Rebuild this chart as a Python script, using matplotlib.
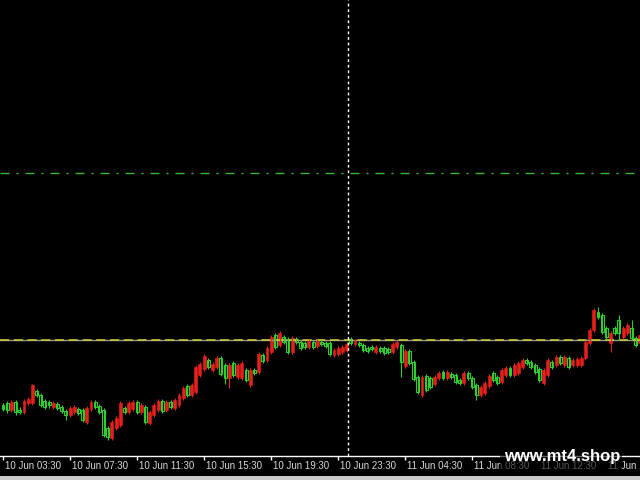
import matplotlib
matplotlib.use("Agg")
import matplotlib.pyplot as plt
from matplotlib.patches import Rectangle
import numpy as np

# M15 candles (price in arbitrary points)
opens = [75, 77, 70, 78, 70, 68, 77, 77, 89, 85, 79, 78, 73, 76, 73, 69, 65, 68, 71, 70, 58, 71, 78, 74,
         70, 52, 42, 52, 55, 72, 68, 71, 78, 68, 73, 57, 65, 70, 79, 70, 78, 72, 75, 82, 94, 85, 88, 105,
         111, 120, 110, 113, 122, 115, 102, 117, 103, 102, 110, 95, 110, 108, 125, 120, 128, 145, 135, 143, 141, 128, 141, 138,
         137, 133, 138, 134, 138, 137, 137, 125, 126, 128, 130, 141, 136, 137, 135, 132, 133, 128, 132, 132, 131, 128, 133,
         135, 114, 129, 118, 103, 85, 104, 102, 96, 102, 108, 102, 106, 105, 100, 97, 107, 102, 95, 85, 87, 94, 107, 103,
         98, 105, 112, 105, 107, 113, 120, 118, 115, 111, 97, 105, 118, 115, 123, 115, 122, 115, 115, 115, 122, 137, 150, 168,
         165, 152, 137, 152, 160, 143, 147, 152, 142, 137]
closes = [71, 70, 78, 68, 68, 79, 81, 95, 85, 75, 73, 75, 77, 72, 69, 65, 72, 73, 67, 60, 72, 78, 73, 68,
          45, 43, 58, 62, 77, 68, 77, 78, 68, 75, 58, 68, 75, 79, 69, 78, 73, 80, 85, 92, 85, 95, 113, 116,
          124, 113, 116, 122, 106, 102, 115, 105, 115, 117, 100, 110, 107, 126, 119, 132, 143, 133, 147, 138, 128, 142, 138, 132,
          133, 139, 133, 139, 136, 134, 126, 130, 132, 133, 136, 137, 139, 135, 130, 129, 131, 133, 129, 127, 128, 136, 138,
          118, 129, 117, 101, 88, 103, 90, 93, 103, 107, 102, 108, 103, 98, 97, 107, 102, 93, 85, 93, 97, 104, 100, 97,
          110, 112, 105, 115, 117, 120, 117, 113, 108, 100, 110, 120, 113, 123, 117, 123, 113, 120, 121, 122, 138, 150, 170, 163,
          148, 143, 147, 147, 147, 152, 155, 142, 135, 145]
highs = [77, 79, 80, 80, 73, 81, 83, 96, 91, 87, 81, 80, 79, 78, 75, 71, 74, 75, 73, 72, 74, 80, 80, 76,
         72, 54, 60, 64, 79, 74, 79, 80, 80, 77, 75, 70, 77, 81, 81, 80, 80, 82, 87, 94, 96, 97, 115, 118,
         126, 122, 118, 124, 124, 117, 117, 119, 117, 119, 112, 112, 112, 128, 127, 134, 145, 147, 149, 145, 143, 144, 143, 140,
         139, 141, 140, 141, 140, 139, 139, 132, 134, 135, 138, 143, 141, 139, 137, 134, 135, 135, 134, 134, 133, 138, 140,
         137, 131, 131, 120, 105, 105, 106, 104, 105, 109, 110, 110, 108, 107, 102, 109, 109, 104, 97, 95, 99, 106, 109, 105,
         112, 114, 114, 117, 119, 122, 122, 120, 117, 113, 112, 122, 120, 125, 125, 125, 124, 122, 123, 124, 140, 152, 172, 173,
         167, 154, 149, 154, 165, 154, 157, 160, 144, 147]
lows = [69, 67, 68, 65, 66, 66, 75, 75, 83, 73, 71, 72, 71, 70, 67, 60, 63, 66, 65, 58, 56, 69, 71, 66,
        43, 40, 40, 50, 53, 66, 66, 69, 66, 66, 56, 55, 63, 68, 67, 68, 71, 70, 73, 80, 83, 83, 86, 103,
        109, 111, 108, 111, 104, 96, 92, 103, 101, 100, 98, 93, 105, 106, 117, 118, 126, 131, 133, 136, 126, 126, 136, 130,
        131, 131, 131, 132, 134, 132, 124, 123, 124, 126, 128, 135, 134, 133, 128, 127, 129, 126, 127, 125, 126, 126, 131,
        103, 112, 115, 99, 86, 83, 88, 91, 94, 100, 100, 100, 101, 96, 95, 95, 100, 91, 80, 83, 85, 92, 98, 95,
        96, 103, 103, 103, 105, 111, 115, 111, 106, 98, 95, 103, 111, 113, 115, 113, 111, 113, 113, 113, 120, 135, 148, 161,
        146, 141, 128, 145, 140, 141, 145, 140, 133, 135]

tick_labels = ["10 Jun 03:30", "10 Jun 07:30", "10 Jun 11:30", "10 Jun 15:30", "10 Jun 19:30",
               "10 Jun 23:30", "11 Jun 04:30", "11 Jun 08:30", "11 Jun 12:30", "11 Jun 16:30"]
bars_per_label = 16
level_line = 307
bid_line = 140
cursor_bar = 82.3

red = "#e8201c"
green = "#2ed02e"

o = np.array(opens)
c = np.array(closes)
h = np.array(highs)
l = np.array(lows)
x = np.arange(len(o))
up = c >= o

fig = plt.figure(figsize=(6.4, 4.8), dpi=100, facecolor="black")
ax = fig.add_axes([0, 24 / 480, 1, 456 / 480])
ax.set_facecolor("black")

ax.axhline(level_line, color="#3cb43c", lw=1, linestyle=(0, (6.5, 5, 1.5, 5)))
ax.axhline(bid_line, color="#9a9a88", lw=1)
ax.axhline(bid_line, color="#cccc40", lw=1.1, linestyle=(0, (6, 3)))

ax.vlines(x[up], l[up], h[up], color=red, lw=0.8)
ax.vlines(x[~up], l[~up], h[~up], color=green, lw=0.8)
ax.bar(x[up], c[up] - o[up], bottom=o[up], width=0.7, color=red, edgecolor=red, lw=0.4)
ax.bar(x[~up], o[~up] - c[~up], bottom=c[~up], width=0.7, facecolor="black", edgecolor=green, lw=0.8)

ax.axvline(cursor_bar, color="white", lw=1, linestyle=(0, (2, 2)))

px_per_bar = 4.19
ax.set_xlim(-0.72, -0.72 + 640 / px_per_bar)
ax.set_ylim(24, 480)

for s in ["top", "left", "right"]:
    ax.spines[s].set_visible(False)
ax.spines["bottom"].set_color("white")
ax.spines["bottom"].set_linewidth(1)
ticks = np.arange(len(tick_labels)) * bars_per_label
ax.set_xticks(ticks)
ax.set_xticklabels([])
ax.set_yticks([])
ax.tick_params(axis="x", direction="out", length=3, width=1, color="white")
for t, lab in zip(ticks, tick_labels):
    ax.text(t + 0.45, -0.022, lab, transform=ax.get_xaxis_transform(), ha="left", va="center",
            color="#d8d8d8", fontsize=7, family="Liberation Sans", clip_on=False)

# watermark
fig.patches.append(Rectangle((500 / 640, 8 / 480), 122 / 640, 24 / 480, transform=fig.transFigure,
                             facecolor="black", alpha=0.6, edgecolor="none", zorder=5))
fig.text(562 / 640, 23 / 480, "www.mt4.shop", ha="center", va="center", color="white",
         fontsize=12, fontweight="bold", family="Liberation Sans", zorder=6)
fig.patches.append(Rectangle((0, 0), 1, 4 / 480, transform=fig.transFigure,
                             facecolor="#c8c8c8", edgecolor="none"))

fig.savefig("out.png", dpi=100, facecolor="black")
